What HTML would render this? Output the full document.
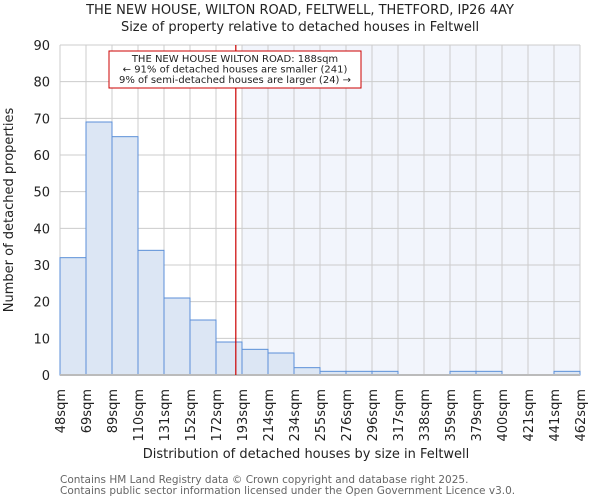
<!DOCTYPE html>
<html><head><meta charset="utf-8"><style>
body{margin:0;background:#fff;font-family:"DejaVu Sans","Liberation Sans",sans-serif}
svg text{font-family:"DejaVu Sans","Liberation Sans",sans-serif}
</style></head><body>
<svg id="chart" width="600" height="500">
<text x="300" y="14" text-anchor="middle" font-size="13" fill="#222">THE NEW HOUSE, WILTON ROAD, FELTWELL, THETFORD, IP26 4AY</text>
<text x="300" y="31" text-anchor="middle" font-size="13" fill="#222">Size of property relative to detached houses in Feltwell</text>
<g id="plot"></g>
<text x="306" y="458" text-anchor="middle" font-size="13" fill="#222">Distribution of detached houses by size in Feltwell</text>
<text transform="translate(13,210) rotate(-90)" text-anchor="middle" font-size="13" fill="#222">Number of detached properties</text>
<text x="60" y="483" font-size="10.5" fill="#666">Contains HM Land Registry data © Crown copyright and database right 2025.</text>
<text x="60" y="494" font-size="10.5" fill="#666">Contains public sector information licensed under the Open Government Licence v3.0.</text>
</svg>
<script>
const binEdges=[48,69,89,110,131,152,172,193,214,234,255,276,296,317,338,359,379,400,421,441,462];
const counts=[32,69,65,34,21,15,9,7,6,2,1,1,1,0,0,1,1,0,0,1];
const yTicks=[0,10,20,30,40,50,60,70,80,90];
const propertySize=188;
const X0=60,X1=580,Y0=375,Y1=45,YMAX=90;
const NS="http://www.w3.org/2000/svg";
const g=document.getElementById('plot');
const n=counts.length,bw=(X1-X0)/n;
const xi=i=>X0+i*bw;
const y=v=>Y0-(v/YMAX)*(Y0-Y1);
function xv(v){for(let i=0;i<n;i++){if(v<=binEdges[i+1])return xi(i)+bw*(v-binEdges[i])/(binEdges[i+1]-binEdges[i]);}return X1;}
function mk(t,a){const e=document.createElementNS(NS,t);for(const k in a)e.setAttribute(k,a[k]);g.appendChild(e);return e;}
let hi=0;for(let i=0;i<n;i++){if(propertySize>binEdges[i])hi=i+1;}
const sh=mk('rect',{x:xi(hi),y:Y1,width:X1-xi(hi),height:Y0-Y1,fill:'#f2f5fc'});


yTicks.forEach(t=>{const l=mk('line',{x1:X0,x2:X1,y1:y(t),y2:y(t),stroke:'#cccccc'});


const tx=mk('text',{x:X0-10,y:y(t)+5,'text-anchor':'end','font-size':13,fill:'#222'});tx.textContent=t;

});
binEdges.forEach((e,i)=>{const l=mk('line',{x1:xi(i),x2:xi(i),y1:Y1,y2:Y0,stroke:'#cccccc'});


const tx=mk('text',{transform:`translate(${xi(i)+5},389) rotate(-90)`,'text-anchor':'end','font-size':13,fill:'#222'});tx.textContent=e+'sqm';

});
counts.forEach((c,i)=>{if(c<=0)return;const r=mk('rect',{x:xi(i),y:y(c),width:bw,height:Y0-y(c),fill:'#dce6f4',stroke:'#5b8fd8','stroke-width':1});

});
const ax=mk('line',{x1:X0,x2:X1,y1:Y0,y2:Y0,stroke:'#bbbbbb','stroke-width':2});


const px=xv(propertySize);
const ml=mk('line',{x1:px,x2:px,y1:Y1,y2:Y0,stroke:'#cc0000','stroke-width':1.2});


const box=mk('rect',{x:109,y:51,width:252,height:37,fill:'#fff',stroke:'#cc0000'});


['THE NEW HOUSE WILTON ROAD: '+propertySize+'sqm','← 91% of detached houses are smaller (241)','9% of semi-detached houses are larger (24) →'].forEach((s,i)=>{const t=mk('text',{x:235,y:62+i*10.5,'text-anchor':'middle','font-size':10,fill:'#222'});t.textContent=s;

});
</script>
</body></html>
